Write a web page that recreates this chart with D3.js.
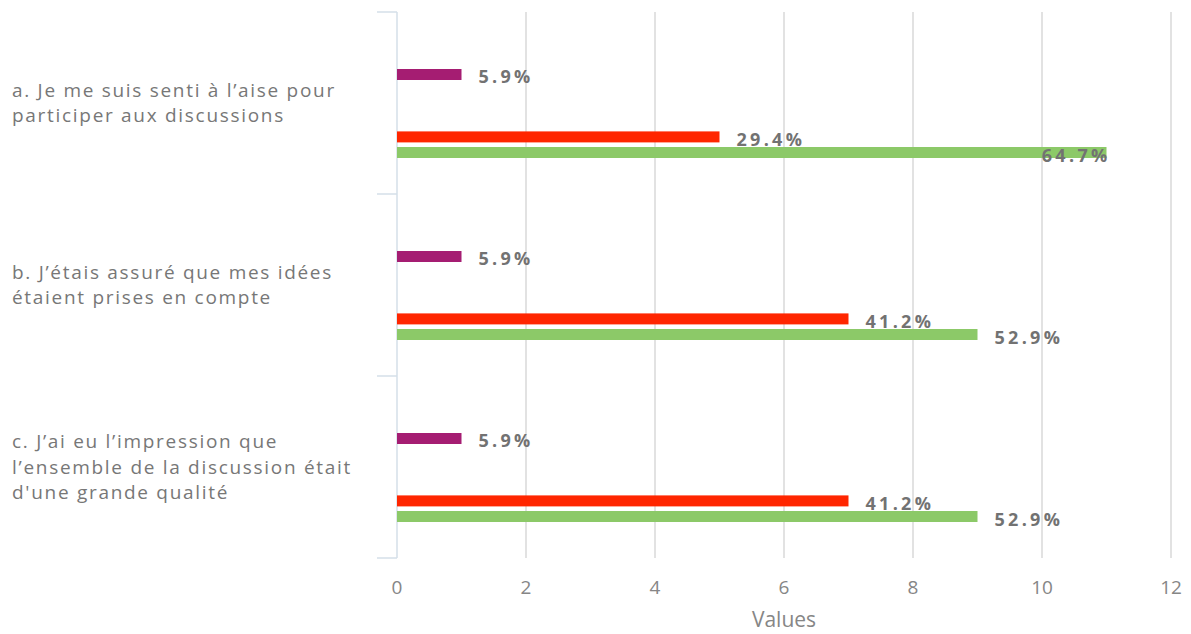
<!DOCTYPE html>
<html>
<head>
<meta charset="utf-8">
<script src="https://cdn.jsdelivr.net/npm/d3@7"></script>
<style>
  body { margin: 0; background: #fff; }
  svg text { font-family: "Open Sans", sans-serif; }
</style>
</head>
<body>
<svg id="chart" width="1191" height="634"></svg>
<script>
// categories (one line per entry)
const categories = [
  ["a. Je me suis senti à l’aise pour", "participer aux discussions"],
  ["b. J’étais assuré que mes idées", "étaient prises en compte"],
  ["c. J’ai eu l’impression que", "l’ensemble de la discussion était", "d'une grande qualité"]
];
// series slots, top to bottom (the three middle ones are empty)
const seriesKeys = ["s1", "s2", "s3", "s4", "s5", "s6"];
const seriesColors = ["#a51d72", "#ffffff", "#ffffff", "#ffffff", "#ff2600", "#8cc968"];
const s1 = [1, 1, 1];
const s2 = [0, 0, 0];
const s3 = [0, 0, 0];
const s4 = [0, 0, 0];
const s5 = [5, 7, 7];
const s6 = [11, 9, 9];
const s1Labels = ["5.9%", "5.9%", "5.9%"];
const s5Labels = ["29.4%", "41.2%", "41.2%"];
const s6Labels = ["64.7%", "52.9%", "52.9%"];
const xTicks = [0, 2, 4, 6, 8, 10, 12];

const values = [s1, s2, s3, s4, s5, s6];
const labels = [s1Labels, null, null, null, s5Labels, s6Labels];

const svg = d3.select("#chart");
const plotLeft = 397, plotRight = 1171, plotTop = 12, plotBottom = 558;

const x = d3.scaleLinear().domain([0, 12]).range([plotLeft, plotRight]);
const y0 = d3.scaleBand().domain(d3.range(categories.length)).range([plotTop, plotBottom]);
const y1 = d3.scaleBand().domain(seriesKeys).range([57, 146]).paddingInner(0.295).paddingOuter(0);

// grid
svg.append("g").selectAll("line").data(xTicks.filter(d => d > 0)).enter().append("line")
  .attr("x1", d => x(d)).attr("x2", d => x(d))
  .attr("y1", plotTop).attr("y2", plotBottom)
  .style("stroke", "#d9d9d9").style("stroke-width", 1.5);

// y axis line + category ticks
svg.append("line").attr("x1", plotLeft).attr("x2", plotLeft).attr("y1", plotTop).attr("y2", plotBottom)
  .style("stroke", "#d5dfe9").style("stroke-width", 1.5);
svg.append("g").selectAll("line").data(d3.range(categories.length + 1)).enter().append("line")
  .attr("x1", plotLeft - 20).attr("x2", plotLeft)
  .attr("y1", d => plotTop + d * y0.step()).attr("y2", d => plotTop + d * y0.step())
  .style("stroke", "#d5dfe9").style("stroke-width", 1.5);

// x tick labels
svg.append("g").selectAll("text").data(xTicks).enter().append("text")
  .attr("x", d => x(d)).attr("y", 594)
  .attr("text-anchor", "middle")
  .style("font-size", "19px").style("fill", "#868686")
  .text(d => d);

svg.append("text").attr("x", (plotLeft + plotRight) / 2).attr("y", 627)
  .attr("text-anchor", "middle")
  .style("font-size", "21px").style("fill", "#868686")
  .text("Values");

// category labels
const catG = svg.append("g").selectAll("text").data(categories).enter().append("text")
  .attr("x", 12)
  .style("font-size", "19px").style("letter-spacing", "1.7px").style("fill", "#777777");
catG.each(function (lines, i) {
  const cy = y0(i) + y0.bandwidth() / 2;
  const lh = 25.5;
  d3.select(this).selectAll("tspan").data(lines).enter().append("tspan")
    .attr("x", 12)
    .attr("y", (d, j) => cy + (j - (lines.length - 1) / 2) * lh + 6.5)
    .text(d => d);
});

// bars
const groups = svg.append("g").selectAll("g").data(categories).enter().append("g")
  .attr("transform", (d, i) => `translate(0,${y0(i)})`);

groups.each(function (cat, i) {
  const g = d3.select(this);
  seriesKeys.forEach(function (k, si) {
    const v = values[si][i];
    if (!v) return;
    g.append("rect")
      .attr("x", x(0))
      .attr("y", y1(k))
      .attr("width", x(v) - x(0))
      .attr("height", y1.bandwidth())
      .style("fill", seriesColors[si]);
    if (labels[si]) {
      const t = g.append("text")
        .attr("x", x(v) + 17)
        .attr("y", y1(k) + y1.bandwidth() / 2 + 9)
        .style("font-size", "18px").style("font-weight", "bold")
        .style("letter-spacing", "3.3px").style("fill", "#727272")
        .text(labels[si][i]);
      const w = t.node().getComputedTextLength();
      if (x(v) + 17 + w > plotRight) t.attr("x", x(v) + 4 - w);
    }
  });
});
</script>
</body>
</html>
